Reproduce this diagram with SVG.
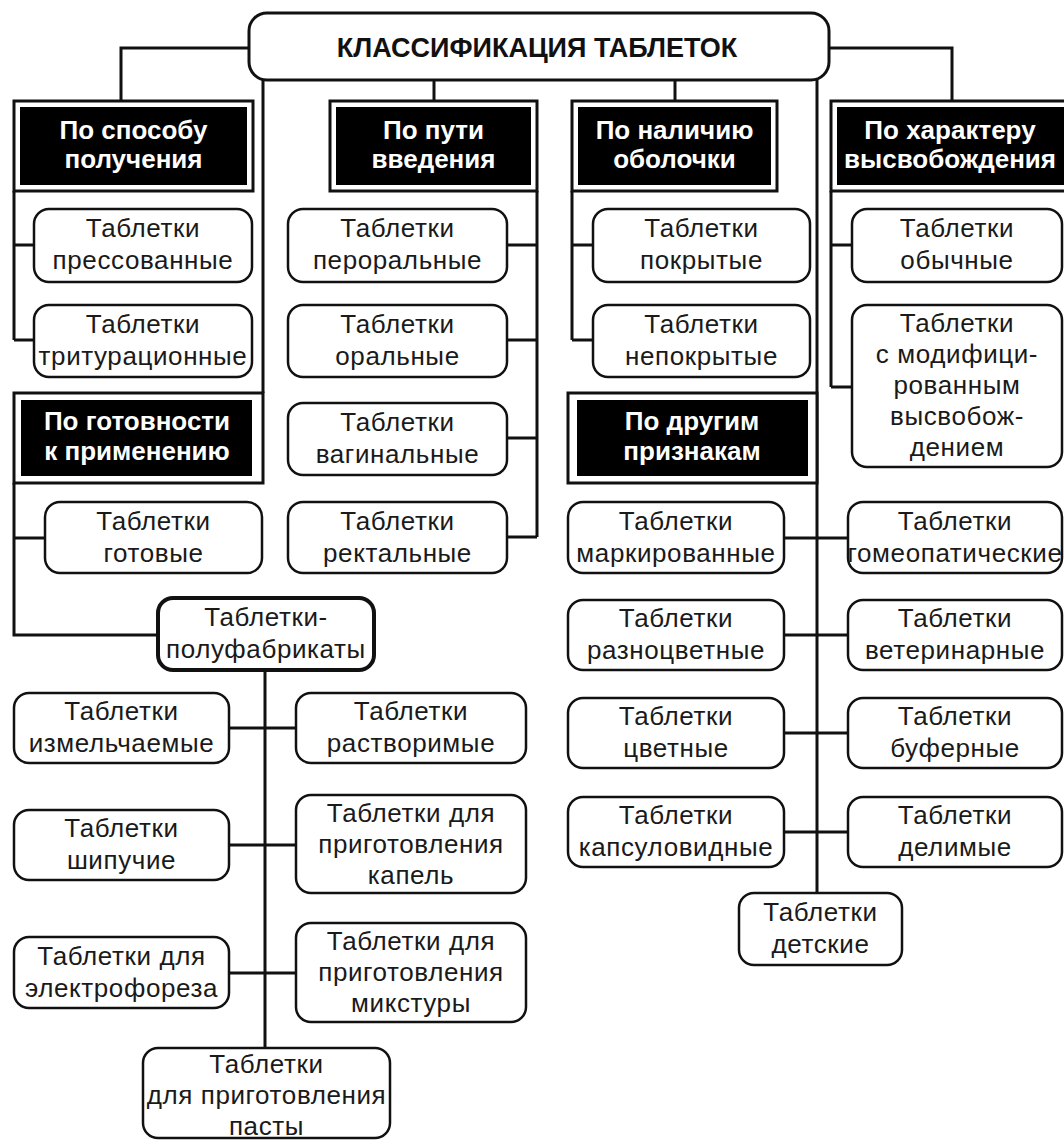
<svg xmlns="http://www.w3.org/2000/svg" width="1064" height="1140" viewBox="0 0 1064 1140">
<style>
.bg{fill:#fff}
.c{fill:none;stroke:#111;stroke-width:3}
.box{fill:#fff;stroke:#111;stroke-width:2.5}
.thick{stroke-width:4}
.frame{fill:#fff;stroke:#111;stroke-width:3}
.blk{fill:#000}
.t{font-family:"Liberation Sans",Arial,sans-serif;font-size:26px;letter-spacing:0.6px;text-anchor:middle;fill:#1a1a1a}
.h{font-family:"Liberation Sans",Arial,sans-serif;font-size:26px;font-weight:bold;text-anchor:middle;fill:#fff}
.ti{font-family:"Liberation Sans",Arial,sans-serif;font-size:27px;font-weight:bold;text-anchor:middle;fill:#111}
</style>
<rect class="bg" x="0" y="0" width="1064" height="1140"/>
<g id="connectors">
<path class="c" d="M249,48 H121 V101"/>
<path class="c" d="M829,48 H952 V101"/>
<path class="c" d="M434,80 V101"/>
<path class="c" d="M675,80 V101"/>
<path class="c" d="M263,80 V393"/>
<path class="c" d="M817,80 V893"/>
<path class="c" d="M14,191 V340 M14,245 H34 M14,340 H34"/>
<path class="c" d="M537,191 V537 M537,245 H507 M537,340 H507 M537,438 H507 M537,537 H507"/>
<path class="c" d="M572,191 V340 M572,245 H593 M572,340 H593"/>
<path class="c" d="M831,191 V387 M831,245 H852 M831,387 H852"/>
<path class="c" d="M14,483 V635 H158 M14,538 H45"/>
<path class="c" d="M265,670 V1048 M229,728 H296 M229,845 H296 M229,973 H296"/>
<path class="c" d="M784,538 H848 M784,635 H848 M784,733 H848 M784,832 H848"/>
</g>
<g id="title">
<rect class="box" style="stroke-width:3" x="249" y="13" width="580" height="67" rx="18"/>
<text class="ti" x="537" y="57">КЛАССИФИКАЦИЯ ТАБЛЕТОК</text>
</g>
<g id="h-sposob">
<rect class="frame" x="14" y="101" width="239" height="90"/>
<rect class="blk" x="20" y="107" width="227" height="78"/>
<text class="h" x="133.5" y="139">По способу</text>
<text class="h" x="133.5" y="168">получения</text>
</g>
<g id="h-put">
<rect class="frame" x="330" y="101" width="207" height="90"/>
<rect class="blk" x="336" y="107" width="195" height="78"/>
<text class="h" x="433.5" y="139">По пути</text>
<text class="h" x="433.5" y="168">введения</text>
</g>
<g id="h-obolochka">
<rect class="frame" x="572" y="101" width="205" height="90"/>
<rect class="blk" x="578" y="107" width="193" height="78"/>
<text class="h" x="674.5" y="139">По наличию</text>
<text class="h" x="674.5" y="168">оболочки</text>
</g>
<g id="h-harakter">
<rect class="frame" x="831" y="101" width="240" height="90"/>
<rect class="blk" x="837" y="107" width="227" height="78"/>
<text class="h" x="950" y="139">По характеру</text>
<text class="h" x="950" y="168">высвобождения</text>
</g>
<g id="h-gotovnost">
<rect class="frame" x="14" y="393" width="249" height="90"/>
<rect class="blk" x="21" y="400" width="231" height="76"/>
<text class="h" x="137" y="430">По готовности</text>
<text class="h" x="137" y="460">к применению</text>
</g>
<g id="h-drugie">
<rect class="frame" x="568" y="393" width="249" height="90"/>
<rect class="blk" x="577" y="400" width="231" height="76"/>
<text class="h" x="692" y="430">По другим</text>
<text class="h" x="692" y="460">признакам</text>
</g>
<g id="n-pressovannye"><rect class="box" x="34" y="209" width="218" height="73" rx="15"/><text class="t" x="143" y="237">Таблетки</text><text class="t" x="143" y="269">прессованные</text></g>
<g id="n-trituracionnye"><rect class="box" x="34" y="305" width="218" height="72" rx="15"/><text class="t" x="143" y="333">Таблетки</text><text class="t" x="143" y="365">тритурационные</text></g>
<g id="n-peroralnye"><rect class="box" x="288" y="209" width="219" height="73" rx="15"/><text class="t" x="397.5" y="237">Таблетки</text><text class="t" x="397.5" y="269">пероральные</text></g>
<g id="n-oralnye"><rect class="box" x="288" y="305" width="219" height="72" rx="15"/><text class="t" x="397.5" y="333">Таблетки</text><text class="t" x="397.5" y="365">оральные</text></g>
<g id="n-vaginalnye"><rect class="box" x="288" y="403" width="219" height="72" rx="15"/><text class="t" x="397.5" y="431">Таблетки</text><text class="t" x="397.5" y="463">вагинальные</text></g>
<g id="n-rektalnye"><rect class="box" x="288" y="502" width="219" height="71" rx="15"/><text class="t" x="397.5" y="530">Таблетки</text><text class="t" x="397.5" y="562">ректальные</text></g>
<g id="n-pokrytye"><rect class="box" x="593" y="209" width="217" height="73" rx="15"/><text class="t" x="701.5" y="237">Таблетки</text><text class="t" x="701.5" y="269">покрытые</text></g>
<g id="n-nepokrytye"><rect class="box" x="593" y="305" width="217" height="72" rx="15"/><text class="t" x="701.5" y="333">Таблетки</text><text class="t" x="701.5" y="365">непокрытые</text></g>
<g id="n-obychnye"><rect class="box" x="852" y="209" width="210" height="73" rx="15"/><text class="t" x="957" y="237">Таблетки</text><text class="t" x="957" y="269">обычные</text></g>
<g id="n-modif"><rect class="box" x="852" y="305" width="210" height="162" rx="15"/><text class="t" x="957" y="332">Таблетки</text><text class="t" x="957" y="363">с модифици-</text><text class="t" x="957" y="394">рованным</text><text class="t" x="957" y="425">высвобож-</text><text class="t" x="957" y="456">дением</text></g>
<g id="n-gotovye"><rect class="box" x="45" y="502" width="217" height="71" rx="15"/><text class="t" x="153.5" y="530">Таблетки</text><text class="t" x="153.5" y="562">готовые</text></g>
<g id="n-polufabrikaty"><rect class="box thick" x="158" y="598" width="216" height="72" rx="15"/><text class="t" x="266" y="626">Таблетки-</text><text class="t" x="266" y="658">полуфабрикаты</text></g>
<g id="n-markirovannye"><rect class="box" x="568" y="502" width="216" height="71" rx="15"/><text class="t" x="676" y="530">Таблетки</text><text class="t" x="676" y="562">маркированные</text></g>
<g id="n-gomeopaticheskie"><rect class="box" x="848" y="502" width="214" height="71" rx="15"/><text class="t" x="955" y="530">Таблетки</text><text class="t" x="955" y="562">гомеопатические</text></g>
<g id="n-raznocvetnye"><rect class="box" x="568" y="600" width="216" height="70" rx="15"/><text class="t" x="676" y="627">Таблетки</text><text class="t" x="676" y="659">разноцветные</text></g>
<g id="n-veterinarnye"><rect class="box" x="848" y="600" width="214" height="70" rx="15"/><text class="t" x="955" y="627">Таблетки</text><text class="t" x="955" y="659">ветеринарные</text></g>
<g id="n-cvetnye"><rect class="box" x="568" y="698" width="216" height="70" rx="15"/><text class="t" x="676" y="725">Таблетки</text><text class="t" x="676" y="757">цветные</text></g>
<g id="n-bufernye"><rect class="box" x="848" y="698" width="214" height="70" rx="15"/><text class="t" x="955" y="725">Таблетки</text><text class="t" x="955" y="757">буферные</text></g>
<g id="n-kapsulovidnye"><rect class="box" x="568" y="797" width="216" height="70" rx="15"/><text class="t" x="676" y="824">Таблетки</text><text class="t" x="676" y="856">капсуловидные</text></g>
<g id="n-delimye"><rect class="box" x="848" y="797" width="214" height="70" rx="15"/><text class="t" x="955" y="824">Таблетки</text><text class="t" x="955" y="856">делимые</text></g>
<g id="n-detskie"><rect class="box" x="739" y="893" width="163" height="72" rx="15"/><text class="t" x="820.5" y="921">Таблетки</text><text class="t" x="820.5" y="953">детские</text></g>
<g id="n-izmelchaemye"><rect class="box" x="14" y="693" width="215" height="70" rx="15"/><text class="t" x="121.5" y="720">Таблетки</text><text class="t" x="121.5" y="752">измельчаемые</text></g>
<g id="n-rastvorimye"><rect class="box" x="296" y="693" width="230" height="70" rx="15"/><text class="t" x="411" y="720">Таблетки</text><text class="t" x="411" y="752">растворимые</text></g>
<g id="n-shipuchie"><rect class="box" x="14" y="810" width="215" height="70" rx="15"/><text class="t" x="121.5" y="837">Таблетки</text><text class="t" x="121.5" y="869">шипучие</text></g>
<g id="n-kapel"><rect class="box" x="296" y="795" width="230" height="98" rx="15"/><text class="t" x="411" y="822">Таблетки для</text><text class="t" x="411" y="853">приготовления</text><text class="t" x="411" y="884">капель</text></g>
<g id="n-elektroforez"><rect class="box" x="14" y="937" width="215" height="71" rx="15"/><text class="t" x="121.5" y="965">Таблетки для</text><text class="t" x="121.5" y="997">электрофореза</text></g>
<g id="n-mikstury"><rect class="box" x="296" y="923" width="230" height="99" rx="15"/><text class="t" x="411" y="950">Таблетки для</text><text class="t" x="411" y="981">приготовления</text><text class="t" x="411" y="1012">микстуры</text></g>
<g id="n-pasty"><rect class="box" x="143" y="1048" width="247" height="90" rx="15"/><text class="t" x="266.5" y="1073">Таблетки</text><text class="t" x="266.5" y="1104">для приготовления</text><text class="t" x="266.5" y="1135">пасты</text></g>
</svg>
